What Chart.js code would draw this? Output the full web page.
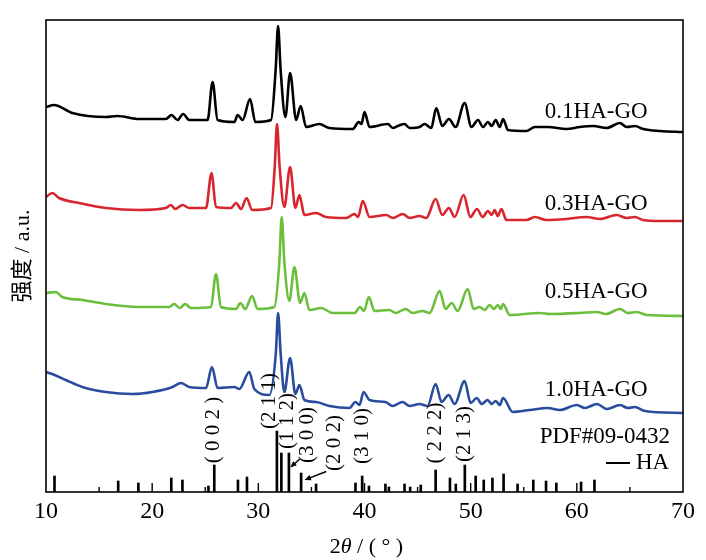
<!DOCTYPE html>
<html><head><meta charset="utf-8">
<script src="https://cdn.jsdelivr.net/npm/chart.js@4.4.0/dist/chart.umd.min.js"></script>
<style>html,body{margin:0;padding:0;background:#fff;}#wrap{width:706px;height:560px;}</style>
</head><body><div id="wrap"><canvas id="c" width="706" height="560"></canvas></div>
<script>
// x tick labels (2θ, degrees)
const xTicks = [10, 20, 30, 40, 50, 60, 70];

// 0.1HA-GO (offset intensity, a.u.)
const s01_x = [10.0,10.75,12.48,15.63,16.73,18.77,21.29,21.82,22.39,22.92,23.49,25.22,25.69,26.16,27.74,28.05,28.52,29.22,29.72,31.2,31.63,31.86,32.1,32.55,32.99,33.56,33.99,34.5,35.75,36.7,38.9,39.46,39.72,40.0,40.47,42.2,42.67,43.14,43.77,44.25,45.19,45.66,46.29,46.76,47.33,47.95,48.58,49.43,50.07,50.69,51.16,51.63,51.98,52.36,52.74,53.05,53.52,55.25,56.04,57.29,59.03,60.28,61.54,62.8,64.06,64.69,65.47,66.25,67.83,70.0];
const s01_y = [385,387,379,375,376,373,373,377,372,378,372,372,410,372,370,377,372,393,370,372,422,466,422,375,419,372,386,365,368,364,363,370,368,380,365,368,364,366,368,364,365,368,364,384,366,373,365,389,365,372,365,370,366,372,365,373,362,361,365,365,363,365,366,364,369,365,366,363,361,360];

// 0.3HA-GO
const s03_x = [10.0,10.59,11.23,13.11,15.63,18.77,21.29,21.76,22.17,22.86,23.49,25.07,25.59,26.01,27.42,27.9,28.37,28.9,29.41,31.2,31.55,31.76,32.0,32.45,32.99,33.49,33.87,34.34,35.44,36.39,38.27,39.06,39.39,39.84,40.47,42.05,42.67,43.61,44.25,45.19,45.82,46.7,47.33,47.95,48.49,49.34,49.97,50.59,51.13,51.63,51.98,52.26,52.55,52.9,53.37,55.25,56.04,57.14,59.03,60.92,62.17,63.75,64.69,65.47,66.25,67.83,70.0];
const s03_y = [295,299,294,289,284,282,284,287,283,287,284,284,319,285,284,289,283,294,282,284,326,368,326,285,325,284,297,277,279,275,274,278,275,291,275,277,274,278,274,276,274,293,277,284,275,297,275,283,275,281,277,282,276,283,272,272,275,272,273,275,273,277,274,275,272,271,271];

// 0.5HA-GO
const s05_x = [10.0,10.92,11.54,13.42,15.63,18.77,21.6,22.08,22.59,23.11,23.65,25.54,26.01,26.48,27.9,28.3,28.77,29.41,29.93,31.51,31.98,32.2,32.45,32.92,33.4,33.93,34.34,34.81,35.92,37.01,39.06,39.59,39.95,40.41,40.94,42.36,42.92,43.87,44.53,45.47,46.13,47.08,47.64,48.21,48.77,49.72,50.28,50.85,51.32,51.79,52.17,52.55,52.83,53.05,53.68,56.51,57.45,60.28,61.86,62.74,64.06,64.81,65.63,66.58,70.0];
const s05_y = [199,200,195,192,188,185,185,188,184,188,184,185,218,185,183,189,183,196,183,185,230,275,230,191,225,189,199,182,184,179,179,185,181,195,181,182,179,183,179,181,179,201,183,189,181,203,183,185,182,187,183,187,183,188,177,179,178,179,180,178,183,179,180,177,176];

// 1.0HA-GO
const s10_x = [10.0,10.59,11.86,13.42,15.63,18.14,20.03,21.92,22.71,23.49,25.07,25.63,26.16,27.74,28.21,29.15,29.62,31.04,31.65,31.86,32.1,32.45,32.99,33.49,33.87,34.34,35.44,36.7,38.58,39.15,39.53,39.91,40.47,41.98,42.64,43.58,44.25,45.19,45.94,46.7,47.26,47.92,48.49,49.43,50.0,50.57,51.04,51.6,51.98,52.36,52.74,53.05,53.96,55.57,57.26,58.4,60.0,60.75,61.89,62.83,64.06,64.81,65.47,66.42,70.0];
const s10_y = [120,118,112,105,100,98,100,105,109,105,104,125,104,105,103,120,103,97,139,179,139,100,134,98,107,92,90,86,84,90,87,100,92,90,86,90,86,88,86,108,90,97,88,111,89,94,88,92,88,91,87,94,80,82,84,82,87,84,88,83,87,84,85,81,79];

// HA reference, PDF#09-0432 (stick positions and heights)
const ha_x = [10.8,16.8,18.7,21.8,22.85,25.3,25.85,28.08,28.93,31.75,32.17,32.88,34.03,35.44,39.15,39.78,40.42,41.97,42.3,43.77,44.3,45.3,46.7,48.05,48.6,49.45,50.47,51.23,52.05,53.1,54.42,55.9,57.1,58.07,60.4,61.66];
const ha_h = [16,11,9,14,12,6,27,12,15,61,39,39,19,8,9,16,6,8,5,8,5,7,22,14,8,27,16,12,14,18,8,12,11,9,10,12];

const seriesNames = ['0.1HA-GO', '0.3HA-GO', '0.5HA-GO', '1.0HA-GO'];
const hklLabels = ['( 0 0 2 )', '(2 1 1)', '(1 1 2)', '(3 0 0)', '(2 0 2)', '(3 1 0)', '( 2 2 2)', '(2 1 3)'];

const SERIF = "'Liberation Serif','Times New Roman',serif";
const colors = ['#000000', '#d8262f', '#6cbf3c', '#2a4c9f'];

const layoutAnn = {
  series: [{x:56.98,y:380},{x:56.98,y:288},{x:56.98,y:200},{x:56.98,y:102}],
  hkl: [{x:25.75,y:62},{x:31.04,y:91},{x:32.74,y:71},{x:34.62,y:57},{x:37.17,y:49},{x:39.81,y:56},{x:46.7,y:59},{x:49.43,y:58}],
  arrows: [{x1:33.9,y1:33,x2:33.0,y2:24.5},{x1:36.4,y1:20.5,x2:34.35,y2:12}],
  pdf: {x:56.5, y:55},
  ha: {x1:62.74, x2:65.0, tx:65.57, y:29}
};

const pairs = (xs, ys) => xs.map((x, i) => ({x: x, y: ys[i]}));
const seriesX = [s01_x, s03_x, s05_x, s10_x];
const seriesY = [s01_y, s03_y, s05_y, s10_y];

const lineSets = seriesNames.map((n, i) => ({
  type: 'line', label: n, data: pairs(seriesX[i], seriesY[i]),
  borderColor: colors[i], borderWidth: 2.6, pointRadius: 0,
  cubicInterpolationMode: 'monotone', fill: false, order: 1
}));

const deco = {
  id: 'deco',
  afterDraw(chart) {
    const c = chart.ctx, a = chart.chartArea;
    const xs = chart.scales.x, ys = chart.scales.y;
    const X = v => xs.getPixelForValue(v), Y = v => ys.getPixelForValue(v);
    c.save();
    c.strokeStyle = '#000'; c.fillStyle = '#000';
    // frame
    c.lineWidth = 1.6;
    c.strokeRect(a.left, a.top, a.right - a.left, a.bottom - a.top);
    // inward ticks
    c.lineWidth = 1.4;
    for (let v = 15; v < 70; v += 5) {
      const len = (v % 10 === 0) ? 9 : 5;
      c.beginPath(); c.moveTo(X(v), a.bottom); c.lineTo(X(v), a.bottom - len); c.stroke();
    }
    // series labels
    c.font = '23px ' + SERIF; c.textBaseline = 'middle'; c.textAlign = 'left';
    seriesNames.forEach((n, i) => c.fillText(n, X(layoutAnn.series[i].x), Y(layoutAnn.series[i].y)));
    // legend
    c.fillText('PDF#09-0432', X(layoutAnn.pdf.x), Y(layoutAnn.pdf.y));
    c.fillText('HA', X(layoutAnn.ha.tx), Y(layoutAnn.ha.y));
    c.lineWidth = 2;
    c.beginPath(); c.moveTo(X(layoutAnn.ha.x1), Y(layoutAnn.ha.y)); c.lineTo(X(layoutAnn.ha.x2), Y(layoutAnn.ha.y)); c.stroke();
    // hkl labels (rotated)
    c.font = '21px ' + SERIF; c.textAlign = 'center';
    hklLabels.forEach((t, i) => {
      c.save(); c.translate(X(layoutAnn.hkl[i].x), Y(layoutAnn.hkl[i].y)); c.rotate(-Math.PI / 2);
      c.fillText(t, 0, 0); c.restore();
    });
    // arrows
    c.lineWidth = 1.5;
    layoutAnn.arrows.forEach(ar => {
      const x1 = X(ar.x1), y1 = Y(ar.y1), x2 = X(ar.x2), y2 = Y(ar.y2);
      const ang = Math.atan2(y2 - y1, x2 - x1), h = 7;
      c.beginPath(); c.moveTo(x1, y1); c.lineTo(x2 - 3 * Math.cos(ang), y2 - 3 * Math.sin(ang)); c.stroke();
      c.beginPath(); c.moveTo(x2, y2);
      c.lineTo(x2 - h * Math.cos(ang - 0.4), y2 - h * Math.sin(ang - 0.4));
      c.lineTo(x2 - h * Math.cos(ang + 0.4), y2 - h * Math.sin(ang + 0.4));
      c.closePath(); c.fill();
    });
    // x axis title: 2θ / ( ° )
    const parts = [['2', '22px ' + SERIF], ['θ', 'italic 22px ' + SERIF], [' / ( ° )', '22px ' + SERIF]];
    let w = 0; parts.forEach(p => { c.font = p[1]; w += c.measureText(p[0]).width; });
    let px = (a.left + a.right) / 2 - w / 2 + 2;
    c.textAlign = 'left'; c.textBaseline = 'middle';
    parts.forEach(p => { c.font = p[1]; c.fillText(p[0], px, 547); px += c.measureText(p[0]).width; });
    c.restore();
  }
};

new Chart(document.getElementById('c'), {
  data: {
    datasets: [
      {type: 'bar', label: 'HA', data: pairs(ha_x, ha_h), backgroundColor: '#000', borderWidth: 0,
       barThickness: 2, grouped: false, order: 2},
      ...lineSets
    ]
  },
  options: {
    responsive: false, animation: false,
    layout: {padding: {top: 20, right: 23, left: 0, bottom: 0}},
    plugins: {legend: {display: false}, tooltip: {enabled: false}},
    scales: {
      x: {type: 'linear', min: 10, max: 70, offset: false,
          afterBuildTicks: s => { s.ticks = xTicks.map(v => ({value: v})); },
          ticks: {font: {family: SERIF, size: 24}, color: '#000', padding: 5, maxRotation: 0, autoSkip: false},
          grid: {display: false, drawTicks: false}, border: {display: false},
          afterFit: s => { s.height = 68; }},
      y: {type: 'linear', min: 0, max: 472,
          ticks: {display: false}, grid: {display: false, drawTicks: false}, border: {display: false},
          title: {display: true, text: '强度 / a.u.', color: '#000',
                  font: {family: "'Liberation Serif','Noto Sans CJK SC',serif", size: 22}, padding: {top: 10, bottom: 0}},
          afterFit: s => { s.width = 46; }}
    }
  },
  plugins: [deco]
});
</script></body></html>
